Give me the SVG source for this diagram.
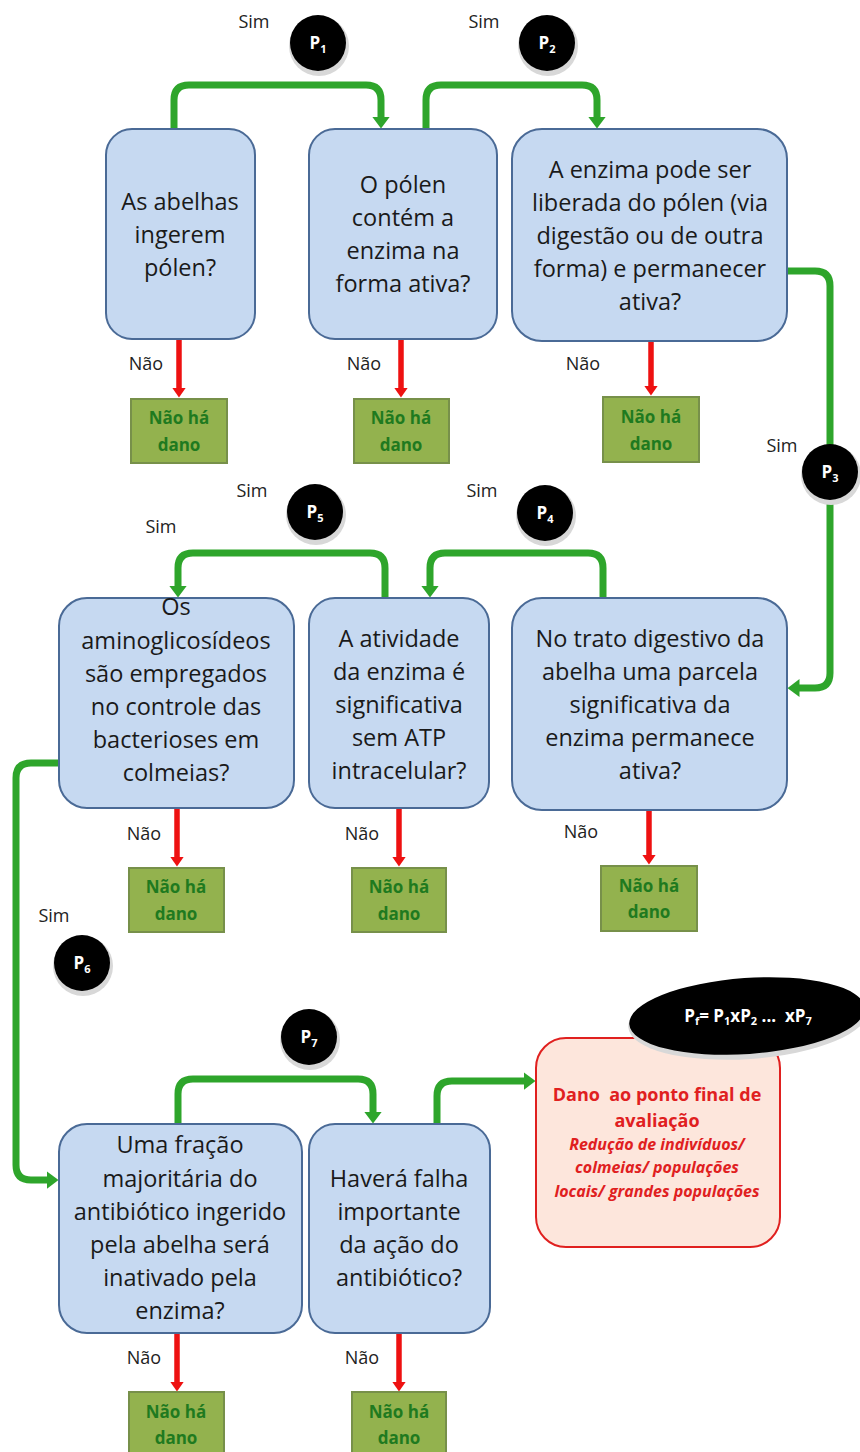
<svg xmlns="http://www.w3.org/2000/svg" width="860" height="1452" viewBox="0 0 860 1452">
<defs>
<marker id="ga" markerUnits="userSpaceOnUse" viewBox="0 0 12 18" refX="0.5" refY="9" markerWidth="12" markerHeight="18" orient="auto"><path d="M0,0 L12,9 L0,18 z" fill="#2ea52b"/></marker>
<marker id="ra" markerUnits="userSpaceOnUse" viewBox="0 0 10 14" refX="0.5" refY="7" markerWidth="10" markerHeight="14" orient="auto"><path d="M0,0 L10,7 L0,14 z" fill="#ee1111"/></marker>
</defs>
<style>
.q{fill:#c6d9f1;stroke:#4a6a96;stroke-width:2}
.qt{font-family:"Open Sans","Liberation Sans",sans-serif;font-size:23.5px;fill:#1a1a1a;text-anchor:middle}
.n{fill:#93b24e;stroke:#77904a;stroke-width:2}
.nt{font-family:"Open Sans","Liberation Sans",sans-serif;font-size:17px;font-weight:bold;fill:#1f7a1f;text-anchor:middle}
.lb{font-family:"Open Sans","Liberation Sans",sans-serif;font-size:18px;fill:#222;text-anchor:middle}
.g{fill:none;stroke:#2ea52b;stroke-width:7;marker-end:url(#ga)}
.r{fill:none;stroke:#ee1111;stroke-width:5.5;marker-end:url(#ra)}
.ph{fill:#d8d8d8}
.pc{fill:#000}
.pt{font-family:"Open Sans","Liberation Sans",sans-serif;font-size:17px;font-weight:bold;fill:#fff;text-anchor:middle}
.dt{font-family:"Open Sans","Liberation Sans",sans-serif;font-weight:bold;fill:#e0201f;text-anchor:middle;white-space:pre}
</style>

<g id="connectors">
<path class="g" d="M174,129 V100 Q174,85 189,85 H366 Q381,85 381,100 V117"/>
<path class="g" d="M426,129 V100 Q426,85 441,85 H582 Q597,85 597,100 V117"/>
<path class="g" d="M787,271 H815 Q830,271 830,286 V673 Q830,688 815,688 H799"/>
<path class="g" d="M603,598 V568 Q603,553 588,553 H445 Q430,553 430,568 V586"/>
<path class="g" d="M385,598 V568 Q385,553 370,553 H193 Q178,553 178,568 V586"/>
<path class="g" d="M59,763 H31 Q16,763 16,778 V1165 Q16,1180 31,1180 H47"/>
<path class="g" d="M178,1124 V1094 Q178,1079 193,1079 H358 Q373,1079 373,1094 V1112"/>
<path class="g" d="M437,1124 V1096 Q437,1081 452,1081 H524"/>
<path class="r" d="M179,340 V388"/>
<path class="r" d="M401,340 V388"/>
<path class="r" d="M651,342 V386"/>
<path class="r" d="M177,809 V857"/>
<path class="r" d="M399,809 V857"/>
<path class="r" d="M649,811 V855"/>
<path class="r" d="M177,1334 V1382"/>
<path class="r" d="M399,1334 V1382"/>
<text class="lb" x="254" y="28">Sim</text>
<text class="lb" x="484" y="28">Sim</text>
<text class="lb" x="782" y="452">Sim</text>
<text class="lb" x="252" y="497">Sim</text>
<text class="lb" x="161" y="533">Sim</text>
<text class="lb" x="482" y="497">Sim</text>
<text class="lb" x="54" y="922">Sim</text>
<text class="lb" x="146" y="370">Não</text>
<text class="lb" x="364" y="370">Não</text>
<text class="lb" x="583" y="370">Não</text>
<text class="lb" x="144" y="840">Não</text>
<text class="lb" x="362" y="840">Não</text>
<text class="lb" x="581" y="838">Não</text>
<text class="lb" x="144" y="1364">Não</text>
<text class="lb" x="362" y="1364">Não</text>
</g>

<g id="p1"><circle class="ph" cx="319" cy="46" r="30"/><circle class="pc" cx="318" cy="43" r="28"/><text class="pt" x="318" y="49">P<tspan font-size="11" dy="4">1</tspan></text></g>
<g id="p2"><circle class="ph" cx="548" cy="46" r="30"/><circle class="pc" cx="547" cy="43" r="28"/><text class="pt" x="547" y="49">P<tspan font-size="11" dy="4">2</tspan></text></g>
<g id="p3"><circle class="ph" cx="831" cy="475" r="30"/><circle class="pc" cx="830" cy="472" r="28"/><text class="pt" x="830" y="478">P<tspan font-size="11" dy="4">3</tspan></text></g>
<g id="p4"><circle class="ph" cx="546" cy="516" r="30"/><circle class="pc" cx="545" cy="513" r="28"/><text class="pt" x="545" y="519">P<tspan font-size="11" dy="4">4</tspan></text></g>
<g id="p5"><circle class="ph" cx="316" cy="515" r="30"/><circle class="pc" cx="315" cy="512" r="28"/><text class="pt" x="315" y="518">P<tspan font-size="11" dy="4">5</tspan></text></g>
<g id="p6"><circle class="ph" cx="83" cy="966" r="30"/><circle class="pc" cx="82" cy="963" r="28"/><text class="pt" x="82" y="969">P<tspan font-size="11" dy="4">6</tspan></text></g>
<g id="p7"><circle class="ph" cx="310" cy="1040" r="30"/><circle class="pc" cx="309" cy="1037" r="28"/><text class="pt" x="309" y="1043">P<tspan font-size="11" dy="4">7</tspan></text></g>

<g id="q1"><rect class="q" x="106" y="129" width="149" height="210" rx="26"/>
<text class="qt"><tspan x="180" y="210">As abelhas</tspan><tspan x="180" y="243">ingerem</tspan><tspan x="180" y="276">pólen?</tspan></text></g>
<g id="q2"><rect class="q" x="309" y="129" width="188" height="210" rx="26"/>
<text class="qt"><tspan x="403" y="193">O pólen</tspan><tspan x="403" y="226">contém a</tspan><tspan x="403" y="259">enzima na</tspan><tspan x="403" y="292">forma ativa?</tspan></text></g>
<g id="q3"><rect class="q" x="512" y="129" width="275" height="212" rx="30"/>
<text class="qt"><tspan x="650" y="178">A enzima pode ser</tspan><tspan x="650" y="211">liberada do pólen (via</tspan><tspan x="650" y="244">digestão ou de outra</tspan><tspan x="650" y="277">forma) e permanecer</tspan><tspan x="650" y="310">ativa?</tspan></text></g>

<g id="q4"><rect class="q" x="512" y="598" width="275" height="212" rx="30"/>
<text class="qt"><tspan x="650" y="647">No trato digestivo da</tspan><tspan x="650" y="680">abelha uma parcela</tspan><tspan x="650" y="713">significativa da</tspan><tspan x="650" y="746">enzima permanece</tspan><tspan x="650" y="779">ativa?</tspan></text></g>
<g id="q5"><rect class="q" x="309" y="598" width="180" height="210" rx="26"/>
<text class="qt"><tspan x="399" y="647">A atividade</tspan><tspan x="399" y="680">da enzima é</tspan><tspan x="399" y="713">significativa</tspan><tspan x="399" y="746">sem ATP</tspan><tspan x="399" y="779">intracelular?</tspan></text></g>
<g id="q6"><rect class="q" x="59" y="598" width="235" height="210" rx="28"/>
<text class="qt"><tspan x="176" y="615">Os</tspan><tspan x="176" y="649">aminoglicosídeos</tspan><tspan x="176" y="682">são empregados</tspan><tspan x="176" y="715">no controle das</tspan><tspan x="176" y="748">bacterioses em</tspan><tspan x="176" y="781">colmeias?</tspan></text></g>

<g id="q7"><rect class="q" x="59" y="1124" width="243" height="209" rx="28"/>
<text class="qt"><tspan x="180" y="1153">Uma fração</tspan><tspan x="180" y="1187">majoritária do</tspan><tspan x="180" y="1220">antibiótico ingerido</tspan><tspan x="180" y="1253">pela abelha será</tspan><tspan x="180" y="1286">inativado pela</tspan><tspan x="180" y="1319">enzima?</tspan></text></g>
<g id="q8"><rect class="q" x="309" y="1124" width="181" height="209" rx="26"/>
<text class="qt"><tspan x="399" y="1187">Haverá falha</tspan><tspan x="399" y="1220">importante</tspan><tspan x="399" y="1253">da ação do</tspan><tspan x="399" y="1286">antibiótico?</tspan></text></g>

<g id="n1"><rect class="n" x="131" y="399" width="96" height="64"/><text class="nt"><tspan x="179" y="424">Não há</tspan><tspan x="179" y="451">dano</tspan></text></g>
<g id="n2"><rect class="n" x="354" y="399" width="95" height="64"/><text class="nt"><tspan x="401" y="424">Não há</tspan><tspan x="401" y="451">dano</tspan></text></g>
<g id="n3"><rect class="n" x="603" y="397" width="96" height="65"/><text class="nt"><tspan x="651" y="423">Não há</tspan><tspan x="651" y="450">dano</tspan></text></g>
<g id="n4"><rect class="n" x="129" y="868" width="95" height="64"/><text class="nt"><tspan x="176" y="893">Não há</tspan><tspan x="176" y="920">dano</tspan></text></g>
<g id="n5"><rect class="n" x="352" y="868" width="94" height="64"/><text class="nt"><tspan x="399" y="893">Não há</tspan><tspan x="399" y="920">dano</tspan></text></g>
<g id="n6"><rect class="n" x="601" y="866" width="96" height="65"/><text class="nt"><tspan x="649" y="892">Não há</tspan><tspan x="649" y="918">dano</tspan></text></g>
<g id="n7"><rect class="n" x="129" y="1392" width="95" height="64"/><text class="nt"><tspan x="176" y="1418">Não há</tspan><tspan x="176" y="1444">dano</tspan></text></g>
<g id="n8"><rect class="n" x="352" y="1392" width="94" height="64"/><text class="nt"><tspan x="399" y="1418">Não há</tspan><tspan x="399" y="1444">dano</tspan></text></g>

<g id="dano"><rect x="536" y="1038" width="244" height="209" rx="30" fill="#fde6dc" stroke="#e0201f" stroke-width="2"/>
<text class="dt" font-size="18" xml:space="preserve"><tspan x="657" y="1101">Dano  ao ponto final de</tspan><tspan x="657" y="1127">avaliação</tspan></text>
<text class="dt" font-size="16" font-style="italic"><tspan x="657" y="1150">Redução de indivíduos/</tspan><tspan x="657" y="1173">colmeias/ populações</tspan><tspan x="657" y="1197">locais/ grandes populações</tspan></text></g>

<g id="pf"><ellipse cx="748" cy="1019" rx="120" ry="40" fill="#d8d8d8" transform="rotate(-4 748 1019)"/><ellipse cx="747" cy="1016" rx="118" ry="38" fill="#000" transform="rotate(-4 747 1016)"/>
<text class="pt" x="748" y="1022" font-size="18" xml:space="preserve" style="white-space:pre">P<tspan font-size="11" dy="3">f</tspan><tspan dy="-3">= P</tspan><tspan font-size="11" dy="3">1</tspan><tspan dy="-3">xP</tspan><tspan font-size="11" dy="3">2</tspan><tspan dy="-3"> ...  xP</tspan><tspan font-size="11" dy="3">7</tspan></text></g>
</svg>
